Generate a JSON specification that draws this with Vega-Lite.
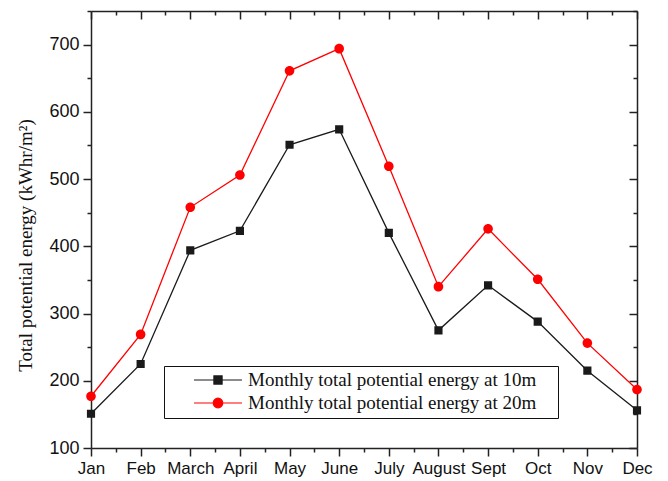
{
  "$schema": "https://vega.github.io/schema/vega-lite/v6.json",
  "width": 546,
  "height": 437,
  "autosize": "none",
  "padding": {"left": 91, "top": 11, "right": 31, "bottom": 33},
  "background": "white",
  "config": {
    "view": {"stroke": null},
    "legend": {
      "orient": "none", "legendX": 73, "legendY": 355, "direction": "vertical",
      "strokeColor": "#111", "fillColor": "white", "padding": 5,
      "symbolSize": 2304, "symbolOffset": 24, "labelOffset": 5, "labelLimit": 1000,
      "symbolStrokeWidth": 1.2, "clipHeight": 18,
      "labelFont": "Liberation Serif", "labelFontSize": 19, "labelColor": "#111",
      "titleOrient": "right", "titlePadding": 17, "titleFontSize": 2, "titleColor": "white",
      "rowPadding": 4
    }
  },
  "data": {
    "values": [
      {"m": 1, "series": "Monthly total potential energy at 10m", "value": 151},
      {"m": 2, "series": "Monthly total potential energy at 10m", "value": 225},
      {"m": 3, "series": "Monthly total potential energy at 10m", "value": 394},
      {"m": 4, "series": "Monthly total potential energy at 10m", "value": 423},
      {"m": 5, "series": "Monthly total potential energy at 10m", "value": 551},
      {"m": 6, "series": "Monthly total potential energy at 10m", "value": 574},
      {"m": 7, "series": "Monthly total potential energy at 10m", "value": 420},
      {"m": 8, "series": "Monthly total potential energy at 10m", "value": 275},
      {"m": 9, "series": "Monthly total potential energy at 10m", "value": 342},
      {"m": 10, "series": "Monthly total potential energy at 10m", "value": 288},
      {"m": 11, "series": "Monthly total potential energy at 10m", "value": 215},
      {"m": 12, "series": "Monthly total potential energy at 10m", "value": 156},
      {"m": 1, "series": "Monthly total potential energy at 20m", "value": 177},
      {"m": 2, "series": "Monthly total potential energy at 20m", "value": 269},
      {"m": 3, "series": "Monthly total potential energy at 20m", "value": 458},
      {"m": 4, "series": "Monthly total potential energy at 20m", "value": 506},
      {"m": 5, "series": "Monthly total potential energy at 20m", "value": 661},
      {"m": 6, "series": "Monthly total potential energy at 20m", "value": 694},
      {"m": 7, "series": "Monthly total potential energy at 20m", "value": 519},
      {"m": 8, "series": "Monthly total potential energy at 20m", "value": 340},
      {"m": 9, "series": "Monthly total potential energy at 20m", "value": 426},
      {"m": 10, "series": "Monthly total potential energy at 20m", "value": 351},
      {"m": 11, "series": "Monthly total potential energy at 20m", "value": 256},
      {"m": 12, "series": "Monthly total potential energy at 20m", "value": 187}
    ]
  },
  "resolve": {"axis": {"x": "independent", "y": "independent"}},
  "layer": [
    {
      "mark": {"type": "line", "strokeWidth": 1.3},
      "encoding": {
        "x": {
          "field": "m", "type": "quantitative",
          "scale": {"domain": [1, 12], "nice": false, "zero": false},
          "axis": {
            "orient": "bottom", "title": null, "grid": false,
            "values": [1, 1.5, 2, 2.5, 3, 3.5, 4, 4.5, 5, 5.5, 6, 6.5, 7, 7.5, 8, 8.5, 9, 9.5, 10, 10.5, 11, 11.5, 12],
            "labelExpr": "datum.value % 1 === 0 ? ['Jan','Feb','March','April','May','June','July','August','Sept','Oct','Nov','Dec'][datum.value - 1] : ''",
            "labelFlush": false, "labelOverlap": false, "labelBound": false,
            "labelFont": "Liberation Sans", "labelFontSize": 17, "labelColor": "#111", "labelPadding": 4,
            "domainColor": "#222", "domainWidth": 1.5, "tickColor": "#222", "tickWidth": 1.5,
            "tickSize": {"condition": {"test": "datum.value % 1 !== 0", "value": 4}, "value": 8}
          }
        },
        "y": {
          "field": "value", "type": "quantitative",
          "scale": {"domain": [100, 750], "nice": false, "zero": false},
          "axis": {
            "orient": "left", "grid": false,
            "title": "Total potential energy (kWhr/m²)",
            "titleFont": "Liberation Serif", "titleFontSize": 19, "titleFontWeight": "normal", "titleColor": "#111", "titlePadding": 13,
            "titleY": 234,
            "values": [100, 150, 200, 250, 300, 350, 400, 450, 500, 550, 600, 650, 700, 750],
            "labelExpr": "datum.value % 100 === 0 && datum.value <= 700 ? datum.value : ''",
            "labelOverlap": false, "labelFlush": false, "labelBound": false,
            "labelFont": "Liberation Sans", "labelFontSize": 18, "labelColor": "#111", "labelPadding": 4,
            "domainColor": "#222", "domainWidth": 1.5, "tickColor": "#222", "tickWidth": 1.5,
            "tickSize": {"condition": {"test": "datum.value % 100 !== 0", "value": 4}, "value": 8}
          }
        },
        "color": {
          "field": "series", "type": "nominal",
          "scale": {"domain": ["Monthly total potential energy at 10m", "Monthly total potential energy at 20m"], "range": ["#1a1a1a", "#ff0000"]},
          "legend": {"title": "\u00a0"}
        }
      }
    },
    {
      "mark": {"type": "point", "filled": true, "opacity": 1, "size": 2304, "strokeWidth": 0},
      "encoding": {
        "x": {"field": "m", "type": "quantitative", "axis": null},
        "y": {"field": "value", "type": "quantitative", "axis": null},
        "color": {
          "field": "series", "type": "nominal",
          "legend": {"title": "\u00a0"}
        },
        "shape": {
          "field": "series", "type": "nominal",
          "scale": {"domain": ["Monthly total potential energy at 10m", "Monthly total potential energy at 20m"], "range": ["M-1,0H-0.17M0.17,0H1M-0.17,-0.17H0.17V0.17H-0.17Z", "M-1,0H-0.2M0.2,0H1M-0.2,0A0.2,0.2,0,1,1,0.2,0A0.2,0.2,0,1,1,-0.2,0Z"]},
          "legend": {"title": "\u00a0"}
        }
      }
    },
    {
      "mark": {"type": "point", "opacity": 0},
      "encoding": {
        "x": {
          "field": "m", "type": "quantitative",
          "axis": {
            "orient": "top", "title": null, "grid": false, "labels": false,
            "values": [1, 1.5, 2, 2.5, 3, 3.5, 4, 4.5, 5, 5.5, 6, 6.5, 7, 7.5, 8, 8.5, 9, 9.5, 10, 10.5, 11, 11.5, 12],
            "domainColor": "#222", "domainWidth": 1.5, "tickColor": "#222", "tickWidth": 1.5,
            "tickSize": {"condition": {"test": "datum.value % 1 !== 0", "value": -4}, "value": -8}
          }
        },
        "y": {
          "field": "value", "type": "quantitative",
          "axis": {
            "orient": "right", "title": null, "grid": false, "labels": false,
            "values": [100, 150, 200, 250, 300, 350, 400, 450, 500, 550, 600, 650, 700, 750],
            "domainColor": "#222", "domainWidth": 1.5, "tickColor": "#222", "tickWidth": 1.5,
            "tickSize": {"condition": {"test": "datum.value % 100 !== 0", "value": -4}, "value": -8}
          }
        }
      }
    }
  ]
}
